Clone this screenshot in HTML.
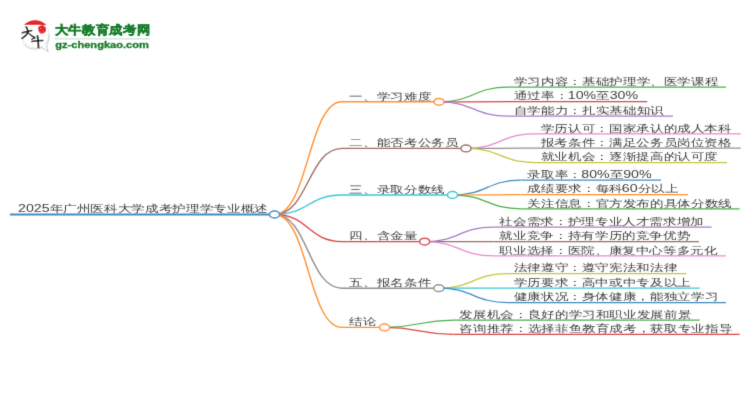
<!DOCTYPE html>
<html><head><meta charset="utf-8"><style>
html,body{margin:0;padding:0;background:#fff;width:750px;height:410px;overflow:hidden}
svg{display:block}
text{font-family:"Liberation Sans",sans-serif;font-size:13.5px;fill:#404040}
</style></head><body>
<svg width="750" height="410" viewBox="0 0 750 410">
<g filter="url(#bl)">
<g id="logo">
<circle cx="35.4" cy="34.4" r="13.6" fill="#fff" stroke="#e4e4e4" stroke-width="0.8"/>
<path d="M23.3,43.5 Q27,48.6 33.5,49 Q38,49.3 42,47.6 L48.2,51.8 L46.6,45.5 Q49.6,40 49.2,34" fill="none" stroke="#c9c9c9" stroke-width="1"/>
<path d="M23.9,25 A15.5,15.5 0 0 1 46.3,25 Z" fill="#e8262b"/>
<g fill="none" stroke="#151515" stroke-linecap="round">
<path d="M22.4,32.7 Q27,31.4 31.8,30.5" stroke-width="1.5"/>
<path d="M26.3,27 Q27.9,29.6 28,32.2 Q26.6,35.4 22.2,38.4" stroke-width="1.7"/>
<path d="M28.1,33 Q31.2,35.2 34.5,38" stroke-width="1.5"/>
<path d="M32.1,36.2 L34.6,37" stroke-width="1.2"/>
<path d="M31.8,39.3 L35,37.9" stroke-width="1.2"/>
<path d="M31.8,41.5 Q37,40.8 42.8,40.6" stroke-width="1.5"/>
<path d="M37.5,36 Q38.4,41.5 38.5,47.4" stroke-width="1.8"/>
</g>
<path d="M38.2,27 Q40.6,24.6 44.2,25.4 Q46.6,27.6 46,31 Q44.4,34 40.6,33.6 Q37.8,31.6 38.2,27 Z" fill="#e0141b"/>
<path d="M39.8,28.2 L41.6,29 M42.6,30.2 L44,31.4 M40.4,31.6 L41.8,32.4 M42.8,27 L43.8,27.6" stroke="#fff" stroke-width="0.6" opacity="0.8"/>
<g transform="translate(54.8,34.4) scale(1,0.9)"><text x="0" y="0" textLength="94.5" lengthAdjust="spacing" style="font-family:'Liberation Sans',sans-serif;font-size:12.9px;font-weight:bold;fill:#187d2a;stroke:#187d2a;stroke-width:0.55">大牛教育成考网</text></g>
<rect x="54.3" y="38.2" width="95.5" height="1.2" fill="#cfe0d4"/>
<g transform="translate(55.2,47.6) scale(1,0.84)"><text x="0" y="0" style="font-family:'Liberation Sans',sans-serif;font-size:11.1px;font-weight:bold;fill:#177a28;stroke:#177a28;stroke-width:0.35">gz-chengkao.com</text></g>
</g>

<g><path d="M274.5,214.5 C308.25,214.5 308.25,101.8 342.0,101.8" stroke="#ff9232" stroke-width="1.4" fill="none"/><path d="M439.0,101.8 C473.5,101.8 473.5,87.2 508.0,87.2" stroke="#4cae4c" stroke-width="1.25" fill="none"/><path d="M439.0,101.8 C473.5,101.8 473.5,101.7 508.0,101.7" stroke="#dc4748" stroke-width="1.25" fill="none"/><path d="M439.0,101.8 C473.5,101.8 473.5,116.1 508.0,116.1" stroke="#a47ec7" stroke-width="1.25" fill="none"/><path d="M274.5,214.5 C308.25,214.5 308.25,148.4 342.0,148.4" stroke="#9d6f66" stroke-width="1.4" fill="none"/><path d="M466.0,148.4 C500.5,148.4 500.5,133.9 535.0,133.9" stroke="#e78bcb" stroke-width="1.25" fill="none"/><path d="M466.0,148.4 C500.5,148.4 500.5,148.2 535.0,148.2" stroke="#929292" stroke-width="1.25" fill="none"/><path d="M466.0,148.4 C500.5,148.4 500.5,162.5 535.0,162.5" stroke="#c6c743" stroke-width="1.25" fill="none"/><path d="M274.5,214.5 C308.25,214.5 308.25,195.0 342.0,195.0" stroke="#3ac8d6" stroke-width="1.4" fill="none"/><path d="M452.5,195.0 C487.0,195.0 487.0,180.2 521.5,180.2" stroke="#418bbf" stroke-width="1.25" fill="none"/><path d="M452.5,195.0 C487.0,195.0 487.0,194.6 521.5,194.6" stroke="#ff9232" stroke-width="1.25" fill="none"/><path d="M452.5,195.0 C487.0,195.0 487.0,208.8 521.5,208.8" stroke="#4cae4c" stroke-width="1.25" fill="none"/><path d="M274.5,214.5 C308.25,214.5 308.25,241.6 342.0,241.6" stroke="#dc4748" stroke-width="1.4" fill="none"/><path d="M424.6,241.6 C459.1,241.6 459.1,227.1 493.6,227.1" stroke="#a47ec7" stroke-width="1.25" fill="none"/><path d="M424.6,241.6 C459.1,241.6 459.1,241.5 493.6,241.5" stroke="#9d6f66" stroke-width="1.25" fill="none"/><path d="M424.6,241.6 C459.1,241.6 459.1,255.8 493.6,255.8" stroke="#e78bcb" stroke-width="1.25" fill="none"/><path d="M274.5,214.5 C308.25,214.5 308.25,288.2 342.0,288.2" stroke="#929292" stroke-width="1.4" fill="none"/><path d="M438.8,288.2 C473.3,288.2 473.3,273.6 507.8,273.6" stroke="#c6c743" stroke-width="1.25" fill="none"/><path d="M438.8,288.2 C473.3,288.2 473.3,288.1 507.8,288.1" stroke="#3ac8d6" stroke-width="1.25" fill="none"/><path d="M438.8,288.2 C473.3,288.2 473.3,302.5 507.8,302.5" stroke="#418bbf" stroke-width="1.25" fill="none"/><path d="M274.5,214.5 C308.25,214.5 308.25,327.4 342.0,327.4" stroke="#ff9232" stroke-width="1.4" fill="none"/><path d="M384.6,327.4 C419.1,327.4 419.1,320.1 453.6,320.1" stroke="#4cae4c" stroke-width="1.25" fill="none"/><path d="M384.6,327.4 C419.1,327.4 419.1,334.3 453.6,334.3" stroke="#dc4748" stroke-width="1.25" fill="none"/></g>
<g><line x1="10" y1="214.5" x2="274.5" y2="214.5" stroke="#418bbf" stroke-width="2"/><line x1="342.0" y1="101.8" x2="439.0" y2="101.8" stroke="#ff9232" stroke-width="1.4"/><line x1="508.0" y1="87.2" x2="726" y2="87.2" stroke="#4cae4c" stroke-width="1.25"/><line x1="508.0" y1="101.7" x2="647.3" y2="101.7" stroke="#dc4748" stroke-width="1.25"/><line x1="508.0" y1="116.1" x2="673" y2="116.1" stroke="#a47ec7" stroke-width="1.25"/><line x1="342.0" y1="148.4" x2="466.0" y2="148.4" stroke="#9d6f66" stroke-width="1.4"/><line x1="535.0" y1="133.9" x2="740.7" y2="133.9" stroke="#e78bcb" stroke-width="1.25"/><line x1="535.0" y1="148.2" x2="740.7" y2="148.2" stroke="#929292" stroke-width="1.25"/><line x1="535.0" y1="162.5" x2="727" y2="162.5" stroke="#c6c743" stroke-width="1.25"/><line x1="342.0" y1="195.0" x2="452.5" y2="195.0" stroke="#3ac8d6" stroke-width="1.4"/><line x1="521.5" y1="180.2" x2="661" y2="180.2" stroke="#418bbf" stroke-width="1.25"/><line x1="521.5" y1="194.6" x2="688" y2="194.6" stroke="#ff9232" stroke-width="1.25"/><line x1="521.5" y1="208.8" x2="739.6" y2="208.8" stroke="#4cae4c" stroke-width="1.25"/><line x1="342.0" y1="241.6" x2="424.6" y2="241.6" stroke="#dc4748" stroke-width="1.4"/><line x1="493.6" y1="227.1" x2="711.6" y2="227.1" stroke="#a47ec7" stroke-width="1.25"/><line x1="493.6" y1="241.5" x2="699" y2="241.5" stroke="#9d6f66" stroke-width="1.25"/><line x1="493.6" y1="255.8" x2="726" y2="255.8" stroke="#e78bcb" stroke-width="1.25"/><line x1="342.0" y1="288.2" x2="438.8" y2="288.2" stroke="#929292" stroke-width="1.4"/><line x1="507.8" y1="273.6" x2="686.4" y2="273.6" stroke="#c6c743" stroke-width="1.25"/><line x1="507.8" y1="288.1" x2="699.6" y2="288.1" stroke="#3ac8d6" stroke-width="1.25"/><line x1="507.8" y1="302.5" x2="726" y2="302.5" stroke="#418bbf" stroke-width="1.25"/><line x1="342.0" y1="327.4" x2="384.6" y2="327.4" stroke="#ff9232" stroke-width="1.4"/><line x1="453.6" y1="320.1" x2="699.6" y2="320.1" stroke="#4cae4c" stroke-width="1.25"/><line x1="453.6" y1="334.3" x2="739.6" y2="334.3" stroke="#dc4748" stroke-width="1.25"/></g>
<g><ellipse cx="439.0" cy="101.8" rx="5" ry="3.4" fill="#fff" stroke="#ff9232" stroke-width="1.5"/><ellipse cx="466.0" cy="148.4" rx="5" ry="3.4" fill="#fff" stroke="#9d6f66" stroke-width="1.5"/><ellipse cx="452.5" cy="195.0" rx="5" ry="3.4" fill="#fff" stroke="#3ac8d6" stroke-width="1.5"/><ellipse cx="424.6" cy="241.6" rx="5" ry="3.4" fill="#fff" stroke="#dc4748" stroke-width="1.5"/><ellipse cx="438.8" cy="288.2" rx="5" ry="3.4" fill="#fff" stroke="#929292" stroke-width="1.5"/><ellipse cx="384.6" cy="327.4" rx="5" ry="3.4" fill="#fff" stroke="#ff9232" stroke-width="1.5"/><ellipse cx="274.5" cy="214.5" rx="5" ry="3.4" fill="#fff" stroke="#418bbf" stroke-width="1.5"/></g>
<defs><filter id="bl" x="-5%" y="-5%" width="110%" height="110%"><feConvolveMatrix order="3" kernelMatrix="0.0113 0.0838 0.0113 0.0838 0.6193 0.0838 0.0113 0.0838 0.0113" edgeMode="none" preserveAlpha="false"/></filter><filter id="gs" x="0" y="0" width="1" height="1"><feColorMatrix type="saturate" values="0"/></filter></defs>
<g filter="url(#gs)"><g transform="translate(18.00,212.25) scale(1.05,0.8)"><text x="0" y="0">2025</text></g><g transform="translate(49.53,212.25) scale(1,0.74)"><text x="0" y="0">年广州医科大学成考护理学专业概述</text></g><g transform="translate(349.30,99.55) scale(1,0.74)"><text x="0" y="0">一、学习难度</text></g><g transform="translate(513.80,84.95) scale(1,0.74)"><text x="0" y="0">学习内容：基础护理学、医学课程</text></g><g transform="translate(513.80,99.45) scale(1,0.74)"><text x="0" y="0">通过率：</text></g><g transform="translate(567.80,99.45) scale(1.05,0.8)"><text x="0" y="0">10%</text></g><g transform="translate(596.17,99.45) scale(1,0.74)"><text x="0" y="0">至</text></g><g transform="translate(609.67,99.45) scale(1.05,0.8)"><text x="0" y="0">30%</text></g><g transform="translate(513.80,113.85) scale(1,0.74)"><text x="0" y="0">自学能力：扎实基础知识</text></g><g transform="translate(349.30,146.15) scale(1,0.74)"><text x="0" y="0">二、能否考公务员</text></g><g transform="translate(540.80,131.65) scale(1,0.74)"><text x="0" y="0">学历认可：国家承认的成人本科</text></g><g transform="translate(540.80,145.95) scale(1,0.74)"><text x="0" y="0">报考条件：满足公务员岗位资格</text></g><g transform="translate(540.80,160.25) scale(1,0.74)"><text x="0" y="0">就业机会：逐渐提高的认可度</text></g><g transform="translate(349.30,192.75) scale(1,0.74)"><text x="0" y="0">三、录取分数线</text></g><g transform="translate(527.30,177.95) scale(1,0.74)"><text x="0" y="0">录取率：</text></g><g transform="translate(581.30,177.95) scale(1.05,0.8)"><text x="0" y="0">80%</text></g><g transform="translate(609.67,177.95) scale(1,0.74)"><text x="0" y="0">至</text></g><g transform="translate(623.17,177.95) scale(1.05,0.8)"><text x="0" y="0">90%</text></g><g transform="translate(527.30,192.35) scale(1,0.74)"><text x="0" y="0">成绩要求：每科</text></g><g transform="translate(621.80,192.35) scale(1.05,0.8)"><text x="0" y="0">60</text></g><g transform="translate(637.57,192.35) scale(1,0.74)"><text x="0" y="0">分以上</text></g><g transform="translate(527.30,206.55) scale(1,0.74)"><text x="0" y="0">关注信息：官方发布的具体分数线</text></g><g transform="translate(349.30,239.35) scale(1,0.74)"><text x="0" y="0">四、含金量</text></g><g transform="translate(499.40,224.85) scale(1,0.74)"><text x="0" y="0">社会需求：护理专业人才需求增加</text></g><g transform="translate(499.40,239.25) scale(1,0.74)"><text x="0" y="0">就业竞争：持有学历的竞争优势</text></g><g transform="translate(499.40,253.55) scale(1,0.74)"><text x="0" y="0">职业选择：医院、康复中心等多元化</text></g><g transform="translate(349.30,285.95) scale(1,0.74)"><text x="0" y="0">五、报名条件</text></g><g transform="translate(513.60,271.35) scale(1,0.74)"><text x="0" y="0">法律遵守：遵守宪法和法律</text></g><g transform="translate(513.60,285.85) scale(1,0.74)"><text x="0" y="0">学历要求：高中或中专及以上</text></g><g transform="translate(513.60,300.25) scale(1,0.74)"><text x="0" y="0">健康状况：身体健康，能独立学习</text></g><g transform="translate(349.30,325.15) scale(1,0.74)"><text x="0" y="0">结论</text></g><g transform="translate(459.40,317.85) scale(1,0.74)"><text x="0" y="0">发展机会：良好的学习和职业发展前景</text></g><g transform="translate(459.40,332.05) scale(1,0.74)"><text x="0" y="0">咨询推荐：选择菲鱼教育成考，获取专业指导</text></g></g>
</g>
</svg>
</body></html>
